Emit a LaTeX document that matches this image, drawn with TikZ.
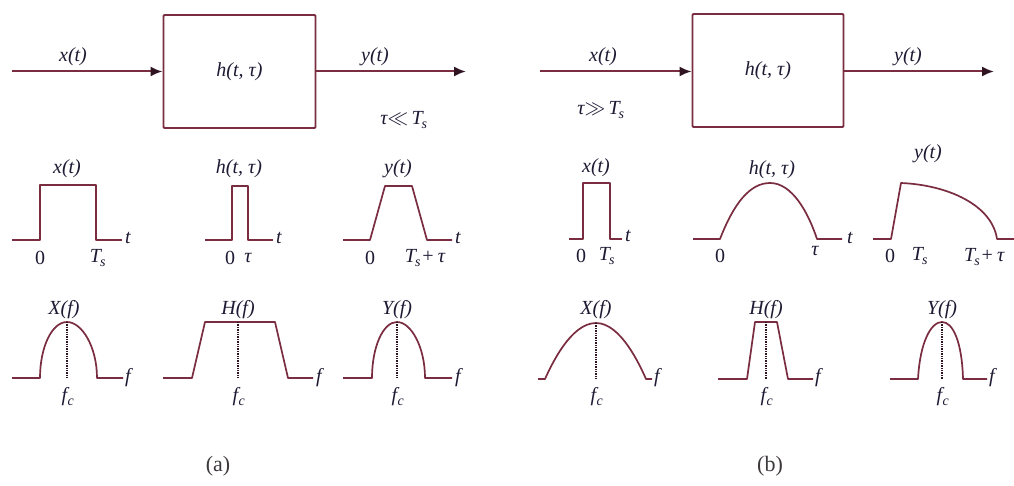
\documentclass[tikz,border=0pt]{standalone}
\usepackage{fontspec}
\setmainfont{Liberation Serif}[ItalicFont={Liberation Serif Italic},BoldFont={Liberation Serif Bold},BoldItalicFont={Liberation Serif Bold Italic}]
\usetikzlibrary{arrows.meta}
\definecolor{wire}{RGB}{122,44,64}
\definecolor{ink}{RGB}{30,26,52}
\definecolor{tipc}{RGB}{48,20,34}
\definecolor{capc}{RGB}{60,56,60}
\newcommand{\Tsub}{\textit{T}\kern-1pt\textsubscript{\textit{s}}}
\newcommand{\fcsub}{\textit{f}\kern0.5pt\textsubscript{\textit{c}}}
\tikzset{
  sig/.style={draw=wire, line width=1.7pt, line join=round},
  lbl/.style={text=ink, font=\fontsize{20}{20}\selectfont\itshape, inner sep=0pt},
  blk/.style={draw=wire, line width=1.9pt, rounded corners=1pt, inner sep=0pt,
              text=ink, font=\fontsize{20}{20}\selectfont\itshape},
  wirearrow/.style={draw=wire, line width=2pt, -{Latex[length=12pt,width=10pt,fill=tipc,color=tipc]}},
  cen/.style={draw=tipc, line width=2.2pt, dash pattern=on 1.4pt off 1pt},
  sublbl/.style={text=capc, font=\fontsize{22}{22}\selectfont, inner sep=0pt}
}
\begin{document}
\begin{tikzpicture}[x=1pt,y=-1pt]
\fill[white] (0,0) rectangle (1014,486);
\useasboundingbox (0,0) rectangle (1014,486);

% ================= panel (a) =================
\node[blk, minimum width=152pt, minimum height=113pt] (boxa) at (239.5,71.5) {h(t, τ)};
\coordinate (ina) at (12,71.5);
\coordinate (outa) at (466,71.5);
\draw[wirearrow] (ina) -- (boxa.west);
\draw[wirearrow] (boxa.east) -- (outa);
\node[lbl] (xa) at (73,57) {x(t)};
\node[lbl] (ya) at (375,57) {y(t)};
\node[lbl] (conda) at (404,120) {τ$\ll$\,\Tsub};

% time signals (a)
\draw[sig] (12,240) -- (40,240) -- (40,185) -- (96,185) -- (96,240) -- (122,240);
\node[lbl] (xta) at (67,169) {x(t)};
\node[lbl] (x0a) at (40,258) {\upshape 0};
\node[lbl] (xTa) at (98,258) {\Tsub};
\node[lbl] (xtta) at (128,238) {t};

\draw[sig] (205,240) -- (232,240) -- (232,186) -- (248,186) -- (248,240) -- (273,240);
\node[lbl] (hta) at (239,169) {h(t, τ)};
\node[lbl] (h0a) at (230,258) {\upshape 0};
\node[lbl] (htaua) at (248,258) {τ};
\node[lbl] (htta) at (279,238) {t};

\draw[sig] (343,240) -- (370,240) -- (385,186) -- (412,186) -- (427,240) -- (452,240);
\node[lbl] (yta) at (398,169) {y(t)};
\node[lbl] (y0a) at (370,258) {\upshape 0};
\node[lbl] (yTa) at (425,258) {\Tsub+\,τ};
\node[lbl] (ytta) at (458,238) {t};

% spectra (a)
\draw[sig] (12,378) -- (40,378) .. controls (40,347) and (52,322) .. (67,322)
  .. controls (82,322) and (97,347) .. (97,378) -- (123,378);
\draw[cen] (67,322) -- (67,378);
\node[lbl] (Xfa) at (64,310) {X(f)};
\node[lbl] (fca) at (68,397) {\fcsub};
\node[lbl] (ffa) at (128,378) {f};

\draw[sig] (163,378) -- (192,378) -- (205,322) -- (275,322) -- (288,378) -- (313,378);
\draw[cen] (238,322) -- (238,378);
\node[lbl] (Hfa) at (238,310) {H(f)};
\node[lbl] (fcb) at (239,397) {\fcsub};
\node[lbl] (ffb) at (319,378) {f};

\draw[sig] (343,378) -- (372,378) .. controls (372,347) and (383,322) .. (397,322)
  .. controls (411,322) and (425,347) .. (425,378) -- (452,378);
\draw[cen] (397,322) -- (397,378);
\node[lbl] (Yfa) at (397,310) {Y(f)};
\node[lbl] (fcc) at (398,397) {\fcsub};
\node[lbl] (ffc) at (458,378) {f};

\node[sublbl] (capa) at (218,466) {(a)};

% ================= panel (b) =================
\node[blk, minimum width=151pt, minimum height=113pt] (boxb) at (768,70.5) {h(t, τ)};
\coordinate (inb) at (540,71.5);
\coordinate (outb) at (994,71.5);
\draw[wirearrow] (inb) -- (boxb.west |- inb);
\draw[wirearrow] (boxb.east |- outb) -- (outb);
\node[lbl] (xb) at (603,57) {x(t)};
\node[lbl] (yb) at (908,57) {y(t)};
\node[lbl] (condb) at (601,110) {τ$\gg$\,\Tsub};

% time signals (b)
\draw[sig] (569,239) -- (583,239) -- (583,183) -- (610,183) -- (610,239) -- (622,239);
\node[lbl] (xtb) at (596,168) {x(t)};
\node[lbl] (x0b) at (581,256) {\upshape 0};
\node[lbl] (xTb) at (607,256) {\Tsub};
\node[lbl] (xttb) at (628,236) {t};

\draw[sig] (693,239) -- (720,239) .. controls (734,203) and (750,183) .. (770,183)
  .. controls (792,183) and (808,212) .. (817,239) -- (842,239);
\node[lbl] (htb) at (772,170) {h(t, τ)};
\node[lbl] (h0b) at (720,256) {\upshape 0};
\node[lbl] (htaub) at (815,251) {τ};
\node[lbl] (httb) at (850,238) {t};

\draw[sig] (873,239) -- (891,239) -- (901,183) .. controls (948,185) and (992,205) .. (997,239) -- (1014,239);
\node[lbl] (ytb) at (928,154) {y(t)};
\node[lbl] (y0b) at (890,256) {\upshape 0};
\node[lbl] (yTb) at (920,256) {\Tsub};
\node[lbl, anchor=west] (yTTb) at (964,257) {\Tsub+\,τ};

% spectra (b)
\draw[sig] (538,379) -- (545,379) parabola bend (596,323) (646,379) -- (652,379);
\draw[cen] (596,323) -- (596,379);
\node[lbl] (Xfb) at (596,310) {X(f)};
\node[lbl] (fcd) at (597,397) {\fcsub};
\node[lbl] (ffd) at (657,378) {f};

\draw[sig] (718,379) -- (747,379) -- (755,322) -- (777,322) -- (788,379) -- (813,379);
\draw[cen] (766,322) -- (766,379);
\node[lbl] (Hfb) at (766,310) {H(f)};
\node[lbl] (fce) at (767,397) {\fcsub};
\node[lbl] (ffe) at (818,378) {f};

\draw[sig] (890,379) -- (918,379) .. controls (920,342) and (931,322) .. (942,322)
  .. controls (953,322) and (962,342) .. (963,379) -- (987,379);
\draw[cen] (942,322) -- (942,379);
\node[lbl] (Yfb) at (942,310) {Y(f)};
\node[lbl] (fcf) at (943,397) {\fcsub};
\node[lbl] (fff) at (992,378) {f};

\node[sublbl] (capb) at (770,466) {(b)};
\end{tikzpicture}
\end{document}
